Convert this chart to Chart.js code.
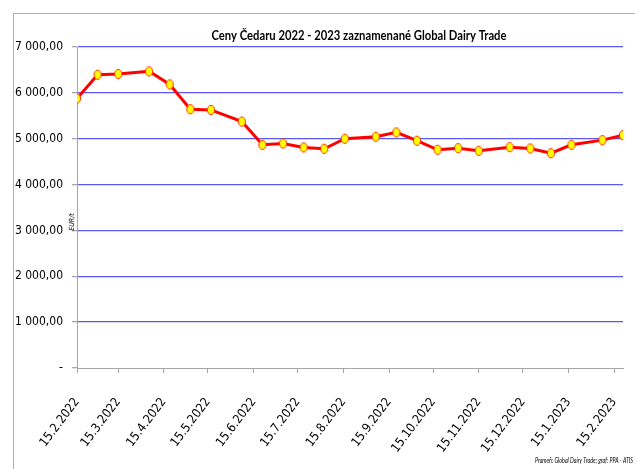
<!DOCTYPE html>
<html>
<head>
<meta charset="utf-8">
<script src="https://cdn.jsdelivr.net/npm/chart.js@4.4.0/dist/chart.umd.min.js"></script>
<style>
  html, body { margin: 0; padding: 0; background: #fff; }
  #wrap { position: relative; width: 635px; height: 469px; overflow: hidden; }
  #frame { position: absolute; left: 13px; top: 13px; width: 700px; height: 600px;
           border-left: 1px solid #a8a8f0; border-top: 1px solid #a8a8f0; }
  canvas { position: absolute; left: 0; top: 0; }
</style>
</head>
<body>
<div id="wrap">
  <div id="frame"></div>
  <canvas id="chart" width="635" height="469"></canvas>
</div>
<script>
// Dátumy aukcií GDT a ceny čedaru (EUR/t)
const auctionDates = [
  '15.2.2022', '1.3.2022', '15.3.2022', '5.4.2022', '19.4.2022', '3.5.2022', '17.5.2022',
  '7.6.2022', '21.6.2022', '5.7.2022', '19.7.2022', '2.8.2022', '16.8.2022', '6.9.2022',
  '20.9.2022', '4.10.2022', '18.10.2022', '1.11.2022', '15.11.2022', '6.12.2022', '20.12.2022',
  '3.1.2023', '17.1.2023', '7.2.2023', '21.2.2023'
];
const cheddarPrices = [
  5877, 6395, 6410, 6469, 6184, 5643, 5627,
  5373, 4868, 4897, 4810, 4781, 5000, 5044,
  5138, 4956, 4759, 4794, 4737, 4816, 4787,
  4684, 4868, 4969, 5079
];
const xTickLabels = [
  '15.2.2022', '15.3.2022', '15.4.2022', '15.5.2022', '15.6.2022', '15.7.2022', '15.8.2022',
  '15.9.2022', '15.10.2022', '15.11.2022', '15.12.2022', '15.1.2023', '15.2.2023'
];
const yTickValues = [0, 1000, 2000, 3000, 4000, 5000, 6000, 7000];

const FONT = "'DejaVu Sans Condensed', 'DejaVu Sans', sans-serif";

function dayNum(s) {
  const [d, m, y] = s.split('.').map(Number);
  return Date.UTC(y, m - 1, d) / 86400000;
}

function fmtPrice(v) {
  if (v === 0) return '-';
  const s = String(Math.round(v)).replace(/\B(?=(\d{3})+(?!\d))/g, ' ');
  return s + ',00';
}

// žltý elipsovitý bod s červeným okrajom
function makeMarker() {
  const c = document.createElement('canvas');
  c.width = 10; c.height = 12;
  const g = c.getContext('2d');
  g.beginPath();
  g.ellipse(5, 6, 3.6, 4.6, 0, 0, Math.PI * 2);
  g.fillStyle = '#ffff00';
  g.fill();
  g.lineWidth = 1;
  g.strokeStyle = '#ff3000';
  g.stroke();
  return c;
}

// text stlačený na požadovanú šírku (úzke písmo ako v origináli)
function fitText(ctx, text, x, y, width, align) {
  const w = ctx.measureText(text).width;
  const sx = Math.min(1, width / w);
  ctx.save();
  ctx.translate(x, y);
  ctx.scale(sx, 1);
  ctx.textAlign = align;
  ctx.fillText(text, 0, 0);
  ctx.restore();
}

const textsPlugin = {
  id: 'texts',
  afterDraw(chart) {
    const ctx = chart.ctx;
    ctx.save();
    ctx.fillStyle = '#000';
    ctx.textBaseline = 'alphabetic';
    ctx.font = 'bold 14px Lato, sans-serif';
    fitText(ctx, 'Ceny Čedaru 2022 - 2023 zaznamenané Global Dairy Trade', 359, 40, 295, 'center');

    ctx.font = 'italic 8px Lato, sans-serif';
    fitText(ctx, 'Prameň: Global Dairy Trade; graf: PPA - ATIS', 633, 463, 98, 'right');

    ctx.translate(72, 222);
    ctx.rotate(-Math.PI / 2);
    ctx.textAlign = 'center';
    ctx.textBaseline = 'middle';
    ctx.font = 'italic 7px ' + FONT;
    ctx.fillText('EUR/t', 0, 0);
    ctx.restore();
  }
};

new Chart(document.getElementById('chart'), {
  type: 'line',
  data: {
    datasets: [{
      data: auctionDates.map((d, i) => ({ x: dayNum(d), y: cheddarPrices[i] })),
      borderColor: '#ff0000',
      borderWidth: 3,
      tension: 0,
      pointStyle: makeMarker(),
      pointRadius: 5,
      pointHoverRadius: 5,
      fill: false
    }]
  },
  options: {
    responsive: false,
    animation: false,
    devicePixelRatio: 1,
    layout: { padding: { top: 47, right: 12, left: 0, bottom: 0 } },
    plugins: {
      legend: { display: false },
      title: { display: false },
      tooltip: { enabled: false }
    },
    scales: {
      x: {
        type: 'linear',
        min: dayNum(auctionDates[0]),
        max: dayNum(auctionDates[auctionDates.length - 1]),
        afterBuildTicks: s => { s.ticks = xTickLabels.map(l => ({ value: dayNum(l) })); },
        afterFit: s => { s.height = 101; s.paddingLeft = 0; s.paddingRight = 0; },
        grid: { drawOnChartArea: false, drawTicks: true, tickLength: 5, tickColor: '#a6a6a6' },
        border: { display: true, color: '#a6a6a6', width: 1 },
        ticks: {
          autoSkip: false,
          minRotation: 53,
          maxRotation: 53,
          padding: 22,
          color: '#000',
          font: { family: FONT, size: 12.5 },
          callback: (v, i) => xTickLabels[i]
        }
      },
      y: {
        min: 0,
        max: 7000,
        afterBuildTicks: s => { s.ticks = yTickValues.map(v => ({ value: v })); },
        afterFit: s => { s.width = 77; s.paddingTop = 0; s.paddingBottom = 0; },
        grid: {
          color: c => (c.tick && c.tick.value === 0) ? 'rgba(0,0,0,0)' : '#5a5af0',
          lineWidth: 1.3,
          tickLength: 5,
          tickColor: '#a6a6a6'
        },
        border: { display: true, color: '#a6a6a6', width: 1 },
        ticks: {
          padding: 9,
          color: '#000',
          font: { family: FONT, size: 12 },
          callback: v => fmtPrice(v)
        }
      }
    }
  },
  plugins: [textsPlugin]
});
</script>
</body>
</html>
